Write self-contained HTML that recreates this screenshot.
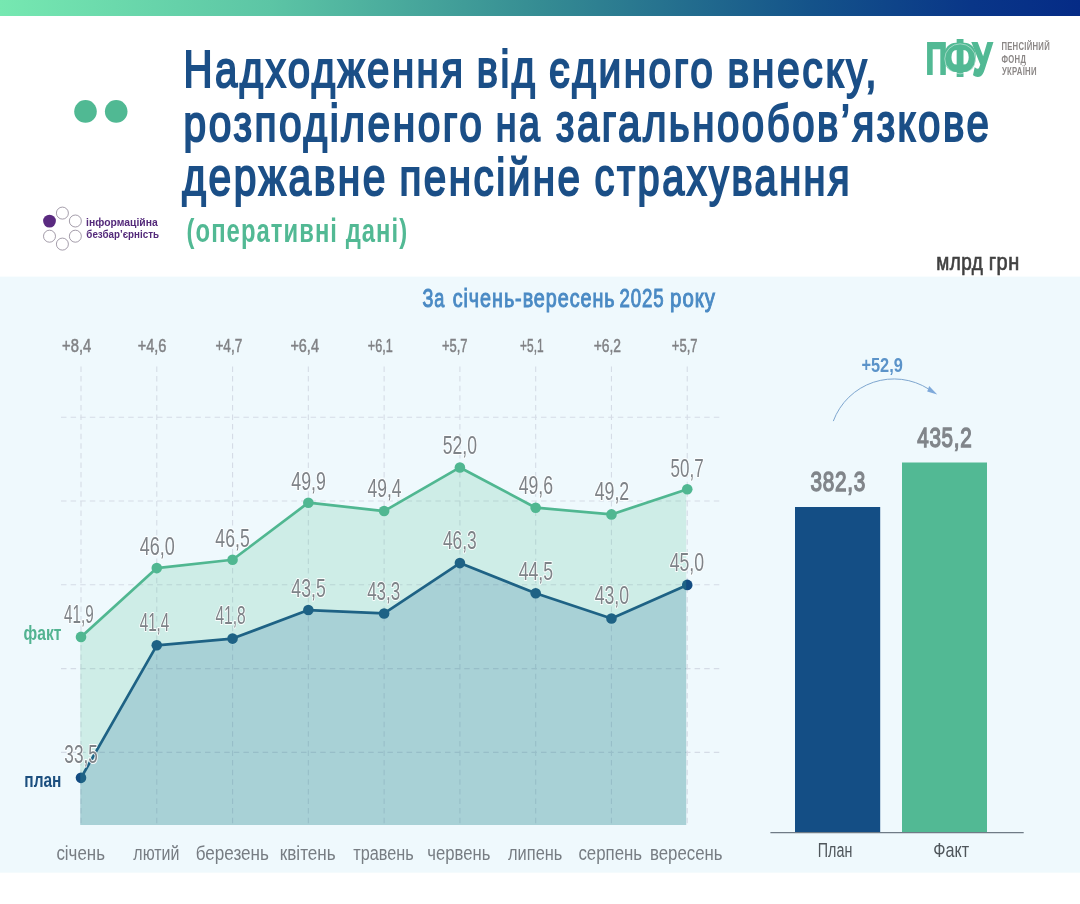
<!DOCTYPE html>
<html lang="uk">
<head>
<meta charset="utf-8">
<title>Надходження від єдиного внеску</title>
<style>
html,body{margin:0;padding:0;background:#fff;}
body{width:1080px;height:904px;overflow:hidden;}
svg{display:block;font-family:"Liberation Sans", sans-serif;}
text{white-space:pre;}
</style>
</head>
<body>
<svg width="1080" height="904" viewBox="0 0 1080 904">
<defs>
<linearGradient id="tg" x1="0" y1="0" x2="1" y2="0">
<stop offset="0" stop-color="#76e8b1"/>
<stop offset="0.25" stop-color="#5cc5a5"/>
<stop offset="0.5" stop-color="#358c93"/>
<stop offset="0.75" stop-color="#14538a"/>
<stop offset="0.9" stop-color="#093688"/>
<stop offset="1" stop-color="#052b86"/>
</linearGradient>
</defs>
<rect x="0" y="0" width="1080" height="904" fill="#ffffff"/>
<rect x="0" y="0" width="1080" height="16" fill="url(#tg)"/>
<circle cx="85.5" cy="111.4" r="11.3" fill="#50b993"/><circle cx="116.2" cy="111.4" r="11.3" fill="#50b993"/>
<g fill="#fff" stroke="#857c8d" stroke-width="0.75"><circle cx="62.4" cy="213.1" r="6.0"/><circle cx="75.35" cy="221" r="6.0"/><circle cx="75.35" cy="236.2" r="6.0"/><circle cx="62.4" cy="244.1" r="6.0"/><circle cx="49.5" cy="236.2" r="6.0"/></g>
<circle cx="49.5" cy="221.1" r="6.4" fill="#5a2a80"/>
<rect x="0" y="276.6" width="1080" height="596.1" fill="#eff9fd"/>
<g stroke="#d5dce6" stroke-width="1.1" stroke-dasharray="5.5 4.1" fill="none"><line x1="61" y1="417.20" x2="720" y2="417.20"/><line x1="61" y1="501.00" x2="720" y2="501.00"/><line x1="61" y1="584.80" x2="720" y2="584.80"/><line x1="61" y1="668.60" x2="720" y2="668.60"/><line x1="61" y1="752.40" x2="720" y2="752.40"/><line x1="81.00" y1="366.5" x2="81.00" y2="824.9"/><line x1="156.78" y1="366.5" x2="156.78" y2="824.9"/><line x1="232.56" y1="366.5" x2="232.56" y2="824.9"/><line x1="308.34" y1="366.5" x2="308.34" y2="824.9"/><line x1="384.12" y1="366.5" x2="384.12" y2="824.9"/><line x1="459.90" y1="366.5" x2="459.90" y2="824.9"/><line x1="535.68" y1="366.5" x2="535.68" y2="824.9"/><line x1="611.46" y1="366.5" x2="611.46" y2="824.9"/><line x1="687.24" y1="366.5" x2="687.24" y2="824.9"/></g>
<path d="M80.3,824.9 L80.30,777.87 L156.78,645.31 L232.56,638.60 L308.34,610.07 L384.12,613.43 L459.90,563.09 L535.68,593.29 L611.46,618.46 L686.20,584.90 L686.2,824.9 Z" fill="#064c96" fill-opacity="0.2"/>
<polyline points="81.00,777.87 156.78,645.31 232.56,638.60 308.34,610.07 384.12,613.43 459.90,563.09 535.68,593.29 611.46,618.46 687.24,584.90" fill="none" stroke="#134c82" stroke-width="2.7" stroke-linejoin="round"/>
<circle cx="81.00" cy="777.87" r="5.3" fill="#134c82"/><circle cx="156.78" cy="645.31" r="5.3" fill="#134c82"/><circle cx="232.56" cy="638.60" r="5.3" fill="#134c82"/><circle cx="308.34" cy="610.07" r="5.3" fill="#134c82"/><circle cx="384.12" cy="613.43" r="5.3" fill="#134c82"/><circle cx="459.90" cy="563.09" r="5.3" fill="#134c82"/><circle cx="535.68" cy="593.29" r="5.3" fill="#134c82"/><circle cx="611.46" cy="618.46" r="5.3" fill="#134c82"/><circle cx="687.24" cy="584.90" r="5.3" fill="#134c82"/>
<path d="M80.3,824.9 L80.30,636.92 L156.78,568.12 L232.56,559.73 L308.34,502.68 L384.12,511.07 L459.90,467.44 L535.68,507.71 L611.46,514.42 L686.20,489.25 L686.2,824.9 Z" fill="#4cc08f" fill-opacity="0.2"/>
<polyline points="81.00,636.92 156.78,568.12 232.56,559.73 308.34,502.68 384.12,511.07 459.90,467.44 535.68,507.71 611.46,514.42 687.24,489.25" fill="none" stroke="#50b791" stroke-width="2.7" stroke-linejoin="round"/>
<circle cx="81.00" cy="636.92" r="5.3" fill="#50b791"/><circle cx="156.78" cy="568.12" r="5.3" fill="#50b791"/><circle cx="232.56" cy="559.73" r="5.3" fill="#50b791"/><circle cx="308.34" cy="502.68" r="5.3" fill="#50b791"/><circle cx="384.12" cy="511.07" r="5.3" fill="#50b791"/><circle cx="459.90" cy="467.44" r="5.3" fill="#50b791"/><circle cx="535.68" cy="507.71" r="5.3" fill="#50b791"/><circle cx="611.46" cy="514.42" r="5.3" fill="#50b791"/><circle cx="687.24" cy="489.25" r="5.3" fill="#50b791"/>
<rect x="795" y="507" width="85.2" height="325.5" fill="#144e85"/>
<rect x="902" y="462.5" width="85" height="370" fill="#52b994"/>
<line x1="770.4" y1="832.6" x2="1023.7" y2="832.6" stroke="#6f7b86" stroke-width="1.2"/>
<path d="M833.3,421.1 A64.7,64.7 0 0 1 928.6,389" fill="none" stroke="#7ea6cf" stroke-width="1"/>
<path d="M937.2,394.5 L929.2,385.9 L927.2,391.6 Z" fill="#7ea9da"/>
<text transform="translate(183.47 86.80) scale(0.7799 1.0)" font-size="51.5" font-weight="400" fill="#1b4f87" stroke="#1b4f87" stroke-width="2.0" letter-spacing="3.2">Надходження</text>
<text transform="translate(476.87 86.80) scale(0.7739 1.0)" font-size="51.5" font-weight="400" fill="#1b4f87" stroke="#1b4f87" stroke-width="2.0" letter-spacing="3.2">від</text>
<text transform="translate(548.91 86.80) scale(0.7893 1.0)" font-size="51.5" font-weight="400" fill="#1b4f87" stroke="#1b4f87" stroke-width="2.0" letter-spacing="3.2">єдиного</text>
<text transform="translate(727.51 86.80) scale(0.7961 1.0)" font-size="51.5" font-weight="400" fill="#1b4f87" stroke="#1b4f87" stroke-width="2.0" letter-spacing="3.2">внеску,</text>
<text transform="translate(183.52 140.50) scale(0.7901 1.0)" font-size="51.5" font-weight="400" fill="#1b4f87" stroke="#1b4f87" stroke-width="2.0" letter-spacing="3.2">розподіленого</text>
<text transform="translate(495.77 140.50) scale(0.7319 1.0)" font-size="51.5" font-weight="400" fill="#1b4f87" stroke="#1b4f87" stroke-width="2.0" letter-spacing="3.2">на</text>
<text transform="translate(556.00 140.50) scale(0.7808 1.0)" font-size="51.5" font-weight="400" fill="#1b4f87" stroke="#1b4f87" stroke-width="2.0" letter-spacing="3.2">загальнообов’язкове</text>
<text transform="translate(182.29 194.60) scale(0.7899 1.0)" font-size="51.5" font-weight="400" fill="#1b4f87" stroke="#1b4f87" stroke-width="2.0" letter-spacing="3.2">державне</text>
<text transform="translate(399.44 194.60) scale(0.7841 1.0)" font-size="51.5" font-weight="400" fill="#1b4f87" stroke="#1b4f87" stroke-width="2.0" letter-spacing="3.2">пенсійне</text>
<text transform="translate(594.53 194.60) scale(0.7721 1.0)" font-size="51.5" font-weight="400" fill="#1b4f87" stroke="#1b4f87" stroke-width="2.0" letter-spacing="3.2">страхування</text>
<text transform="translate(186.57 241.70) scale(0.7008 1.0)" font-size="34" font-weight="700" fill="#52b994" letter-spacing="1.5">(оперативні дані)</text>
<text transform="translate(936.26 269.95) scale(0.8150 1.0)" font-size="23.2" font-weight="400" fill="#404040" stroke="#404040" stroke-width="0.7" letter-spacing="0.6">млрд</text>
<text transform="translate(988.71 269.95) scale(0.8619 1.0)" font-size="23.2" font-weight="400" fill="#404040" stroke="#404040" stroke-width="0.7" letter-spacing="0.6">грн</text>
<text transform="translate(86.07 226.00) scale(0.9793 1.0)" font-size="10.6" font-weight="700" fill="#53297a">інформаційна</text>
<text transform="translate(86.34 237.70) scale(0.9252 1.0)" font-size="10.6" font-weight="700" fill="#53297a">безбар’єрність</text>
<text transform="translate(925.79 74.22) scale(0.6539 0.9805)" font-size="45.5" font-weight="700" fill="#52b994" stroke="#52b994" stroke-width="2.0">П</text>
<text transform="translate(972.42 76.26) scale(0.6918 1.0436)" font-size="45.5" font-weight="700" fill="#52b994" stroke="#52b994" stroke-width="2.0">У</text>
<text transform="translate(943.80 76.33) scale(0.7975 1.0723)" font-size="48" font-weight="700" fill="#52b994" stroke="#52b994" stroke-width="2.0">Ф</text>
<text transform="translate(1001.39 50.00) scale(0.6830 1.0)" font-size="11.3" font-weight="700" fill="#8b8786" letter-spacing="0.4">ПЕНСІЙНИЙ</text>
<text transform="translate(1001.56 62.80) scale(0.6780 1.0)" font-size="11.3" font-weight="700" fill="#8b8786" letter-spacing="0.4">ФОНД</text>
<text transform="translate(1001.90 75.00) scale(0.6874 1.0)" font-size="11.3" font-weight="700" fill="#8b8786" letter-spacing="0.4">УКРАЇНИ</text>
<text transform="translate(422.44 307.00) scale(0.7240 1.0)" font-size="25" font-weight="400" fill="#4a8ac4" stroke="#4a8ac4" stroke-width="1.0" letter-spacing="1.2">За</text>
<text transform="translate(452.70 307.00) scale(0.7907 1.0)" font-size="25" font-weight="400" fill="#4a8ac4" stroke="#4a8ac4" stroke-width="1.0" letter-spacing="1.2">січень-вересень</text>
<text transform="translate(619.44 307.00) scale(0.7466 1.0)" font-size="25" font-weight="400" fill="#4a8ac4" stroke="#4a8ac4" stroke-width="1.0" letter-spacing="1.2">2025</text>
<text transform="translate(670.08 307.00) scale(0.8147 1.0)" font-size="25" font-weight="400" fill="#4a8ac4" stroke="#4a8ac4" stroke-width="1.0" letter-spacing="1.2">року</text>
<text transform="translate(62.08 351.85) scale(0.8203 1.0)" font-size="18" font-weight="400" fill="#808285" stroke="#808285" stroke-width="0.5">+8,4</text>
<text transform="translate(137.69 351.85) scale(0.8088 1.0)" font-size="18" font-weight="400" fill="#808285" stroke="#808285" stroke-width="0.5">+4,6</text>
<text transform="translate(215.43 351.85) scale(0.7559 1.0)" font-size="18" font-weight="400" fill="#808285" stroke="#808285" stroke-width="0.5">+4,7</text>
<text transform="translate(290.40 351.85) scale(0.8029 1.0)" font-size="18" font-weight="400" fill="#808285" stroke="#808285" stroke-width="0.5">+6,4</text>
<text transform="translate(367.77 351.85) scale(0.7007 1.0)" font-size="18" font-weight="400" fill="#808285" stroke="#808285" stroke-width="0.5">+6,1</text>
<text transform="translate(441.96 351.85) scale(0.7206 1.0)" font-size="18" font-weight="400" fill="#808285" stroke="#808285" stroke-width="0.5">+5,7</text>
<text transform="translate(520.10 351.85) scale(0.6628 1.0)" font-size="18" font-weight="400" fill="#808285" stroke="#808285" stroke-width="0.5">+5,1</text>
<text transform="translate(593.72 351.85) scale(0.7676 1.0)" font-size="18" font-weight="400" fill="#808285" stroke="#808285" stroke-width="0.5">+6,2</text>
<text transform="translate(671.86 351.85) scale(0.7235 1.0)" font-size="18" font-weight="400" fill="#808285" stroke="#808285" stroke-width="0.5">+5,7</text>
<text transform="translate(64.11 623.30) scale(0.5867 1.0)" font-size="26" font-weight="400" fill="#7e8388" stroke="#fff" stroke-width="2.2" stroke-opacity="0.9" stroke-linejoin="round" paint-order="stroke">41,9</text>
<text transform="translate(139.65 555.00) scale(0.6939 1.0)" font-size="26" font-weight="400" fill="#7e8388" stroke="#fff" stroke-width="2.2" stroke-opacity="0.9" stroke-linejoin="round" paint-order="stroke">46,0</text>
<text transform="translate(215.36 546.70) scale(0.6796 1.0)" font-size="26" font-weight="400" fill="#7e8388" stroke="#fff" stroke-width="2.2" stroke-opacity="0.9" stroke-linejoin="round" paint-order="stroke">46,5</text>
<text transform="translate(291.36 490.00) scale(0.6831 1.0)" font-size="26" font-weight="400" fill="#7e8388" stroke="#fff" stroke-width="2.2" stroke-opacity="0.9" stroke-linejoin="round" paint-order="stroke">49,9</text>
<text transform="translate(367.46 497.30) scale(0.6721 1.0)" font-size="26" font-weight="400" fill="#7e8388" stroke="#fff" stroke-width="2.2" stroke-opacity="0.9" stroke-linejoin="round" paint-order="stroke">49,4</text>
<text transform="translate(442.82 454.20) scale(0.6763 1.0)" font-size="26" font-weight="400" fill="#7e8388" stroke="#fff" stroke-width="2.2" stroke-opacity="0.9" stroke-linejoin="round" paint-order="stroke">52,0</text>
<text transform="translate(518.66 494.00) scale(0.6796 1.0)" font-size="26" font-weight="400" fill="#7e8388" stroke="#fff" stroke-width="2.2" stroke-opacity="0.9" stroke-linejoin="round" paint-order="stroke">49,6</text>
<text transform="translate(594.66 500.00) scale(0.6831 1.0)" font-size="26" font-weight="400" fill="#7e8388" stroke="#fff" stroke-width="2.2" stroke-opacity="0.9" stroke-linejoin="round" paint-order="stroke">49,2</text>
<text transform="translate(670.55 476.70) scale(0.6528 1.0)" font-size="26" font-weight="400" fill="#7e8388" stroke="#fff" stroke-width="2.2" stroke-opacity="0.9" stroke-linejoin="round" paint-order="stroke">50,7</text>
<text transform="translate(64.34 763.30) scale(0.6598 1.0)" font-size="26" font-weight="400" fill="#7e8388" stroke="#fff" stroke-width="2.2" stroke-opacity="0.9" stroke-linejoin="round" paint-order="stroke">33,5</text>
<text transform="translate(139.71 631.40) scale(0.5848 1.0)" font-size="26" font-weight="400" fill="#7e8388" stroke="#fff" stroke-width="2.2" stroke-opacity="0.9" stroke-linejoin="round" paint-order="stroke">41,4</text>
<text transform="translate(215.40 624.30) scale(0.5980 1.0)" font-size="26" font-weight="400" fill="#7e8388" stroke="#fff" stroke-width="2.2" stroke-opacity="0.9" stroke-linejoin="round" paint-order="stroke">41,8</text>
<text transform="translate(291.36 596.70) scale(0.6796 1.0)" font-size="26" font-weight="400" fill="#7e8388" stroke="#fff" stroke-width="2.2" stroke-opacity="0.9" stroke-linejoin="round" paint-order="stroke">43,5</text>
<text transform="translate(367.17 600.00) scale(0.6531 1.0)" font-size="26" font-weight="400" fill="#7e8388" stroke="#fff" stroke-width="2.2" stroke-opacity="0.9" stroke-linejoin="round" paint-order="stroke">43,3</text>
<text transform="translate(442.97 548.50) scale(0.6673 1.0)" font-size="26" font-weight="400" fill="#7e8388" stroke="#fff" stroke-width="2.2" stroke-opacity="0.9" stroke-linejoin="round" paint-order="stroke">46,3</text>
<text transform="translate(518.66 580.00) scale(0.6796 1.0)" font-size="26" font-weight="400" fill="#7e8388" stroke="#fff" stroke-width="2.2" stroke-opacity="0.9" stroke-linejoin="round" paint-order="stroke">44,5</text>
<text transform="translate(594.66 604.00) scale(0.6796 1.0)" font-size="26" font-weight="400" fill="#7e8388" stroke="#fff" stroke-width="2.2" stroke-opacity="0.9" stroke-linejoin="round" paint-order="stroke">43,0</text>
<text transform="translate(669.66 571.00) scale(0.6796 1.0)" font-size="26" font-weight="400" fill="#7e8388" stroke="#fff" stroke-width="2.2" stroke-opacity="0.9" stroke-linejoin="round" paint-order="stroke">45,0</text>
<text transform="translate(23.60 640.30) scale(0.7978 1.0)" font-size="19.6" font-weight="700" fill="#52b391">факт</text>
<text transform="translate(24.31 786.70) scale(0.7910 1.0)" font-size="19.6" font-weight="700" fill="#1c4f7f">план</text>
<text transform="translate(56.39 859.80) scale(0.8139 1.0)" font-size="20.8" font-weight="400" fill="#777d83">січень</text>
<text transform="translate(133.30 859.80) scale(0.7692 1.0)" font-size="20.8" font-weight="400" fill="#777d83">лютий</text>
<text transform="translate(195.67 859.80) scale(0.8230 1.0)" font-size="20.8" font-weight="400" fill="#777d83">березень</text>
<text transform="translate(279.76 859.80) scale(0.8244 1.0)" font-size="20.8" font-weight="400" fill="#777d83">квітень</text>
<text transform="translate(353.30 859.80) scale(0.7816 1.0)" font-size="20.8" font-weight="400" fill="#777d83">травень</text>
<text transform="translate(427.30 859.80) scale(0.8026 1.0)" font-size="20.8" font-weight="400" fill="#777d83">червень</text>
<text transform="translate(508.00 859.80) scale(0.7897 1.0)" font-size="20.8" font-weight="400" fill="#777d83">липень</text>
<text transform="translate(578.39 859.80) scale(0.8104 1.0)" font-size="20.8" font-weight="400" fill="#777d83">серпень</text>
<text transform="translate(649.99 859.80) scale(0.8091 1.0)" font-size="20.8" font-weight="400" fill="#777d83">вересень</text>
<text transform="translate(810.48 491.20) scale(0.7423 1.0)" font-size="28" font-weight="400" fill="#80858a" stroke="#80858a" stroke-width="1.4" letter-spacing="1.0">382,3</text>
<text transform="translate(917.16 446.90) scale(0.7334 1.0)" font-size="28.2" font-weight="400" fill="#80858a" stroke="#80858a" stroke-width="1.4" letter-spacing="1.0">435,2</text>
<text transform="translate(861.41 371.90) scale(0.7882 1.0)" font-size="20.8" font-weight="700" fill="#5b93c9">+52,9</text>
<text transform="translate(817.79 856.70) scale(0.7386 1.0)" font-size="19.4" font-weight="400" fill="#4f565b">План</text>
<text transform="translate(933.16 856.70) scale(0.8337 1.0)" font-size="19.4" font-weight="400" fill="#4f565b">Факт</text>
<ellipse cx="960.15" cy="58.85" rx="15.4" ry="15" fill="none" stroke="#fff" stroke-width="0.6" stroke-opacity="0.75"/>
</svg>
</body>
</html>
